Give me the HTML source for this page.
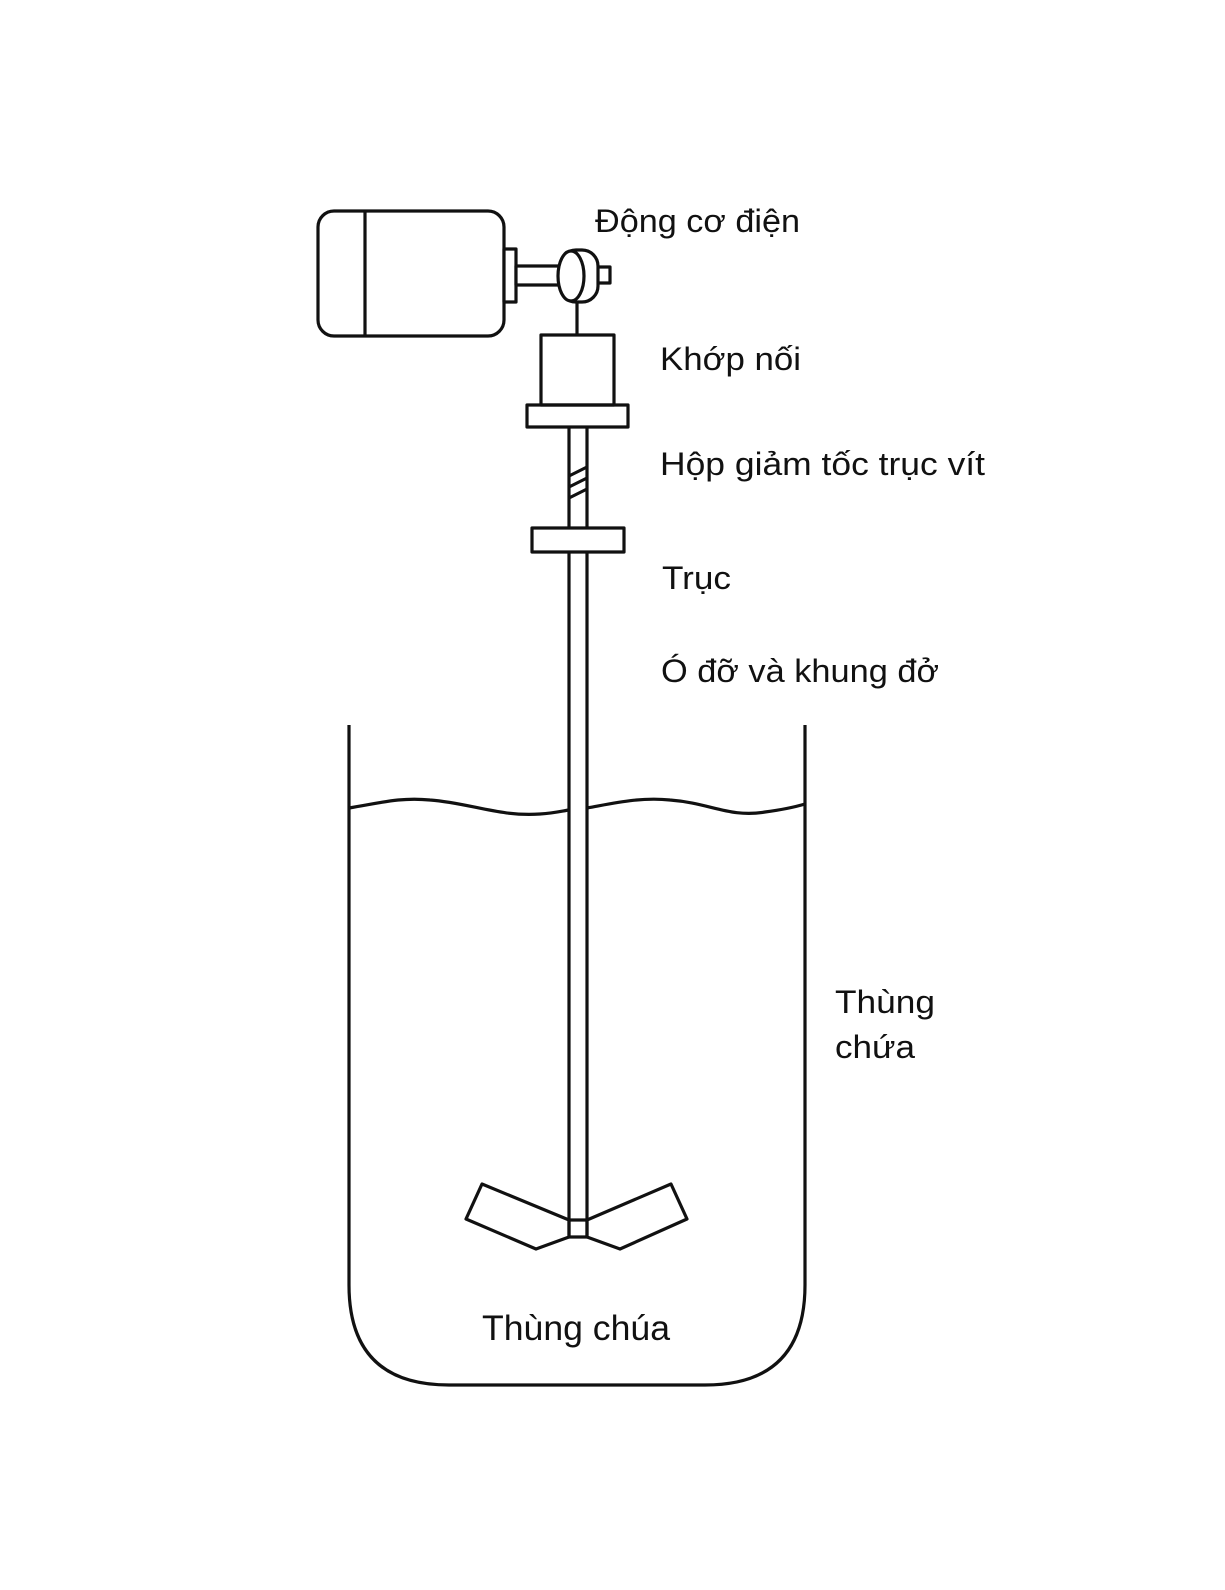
<!DOCTYPE html>
<html><head><meta charset="utf-8"><style>html,body{margin:0;padding:0;background:#fff}</style></head>
<body>
<svg width="1225" height="1585" viewBox="0 0 1225 1585" xmlns="http://www.w3.org/2000/svg">
<g fill="none" stroke="#111" stroke-width="3.2" stroke-linejoin="round">
<rect x="318" y="211" width="186" height="125" rx="16"/>
<line x1="365" y1="211" x2="365" y2="336"/>
<rect x="504" y="249" width="12" height="53" fill="#fff"/>
<rect x="516" y="266" width="52" height="19" fill="#fff"/>
<rect x="596" y="267" width="14" height="16" fill="#fff"/>
<rect x="560" y="250" width="38" height="52" rx="16" fill="#fff"/>
<ellipse cx="571" cy="276" rx="13" ry="25" fill="#fff"/>
<line x1="577" y1="302" x2="577" y2="335"/>
<rect x="541" y="335" width="73" height="70"/>
<rect x="527" y="405" width="101" height="22"/>
<line x1="569" y1="427" x2="569" y2="528"/>
<line x1="587" y1="427" x2="587" y2="528"/>
<path d="M569 476 L587 467 M569 487 L587 478 M569 498 L587 489"/>
<rect x="532" y="528" width="92" height="24"/>
<line x1="569" y1="552" x2="569" y2="1220"/>
<line x1="587" y1="552" x2="587" y2="1220"/>
<rect x="569" y="1220" width="18" height="17"/>
<polygon points="569,1220 482,1184 466,1219 536,1249 569,1237"/>
<polygon points="587,1220 671,1184 687,1219 620,1249 587,1237"/>
<path d="M349 725 L349 1285 Q349 1385 449 1385 L705 1385 Q805 1385 805 1285 L805 725"/>
<path d="M349 808 C380 803 400 797 430 800 C470 803 500 817 540 814 C555 813 562 811 569 810"/>
<path d="M587 808 C615 803 640 797 670 800 C710 803 730 818 765 812 C780 810 795 807 805 804"/>
</g>
<g font-family="Liberation Sans, sans-serif" fill="#111" font-size="32">
<text x="595" y="232" textLength="205" lengthAdjust="spacingAndGlyphs">Động cơ điện</text>
<text x="660" y="370" textLength="141" lengthAdjust="spacingAndGlyphs">Khớp nối</text>
<text x="660" y="475" textLength="325" lengthAdjust="spacingAndGlyphs">Hộp giảm tốc trục vít</text>
<text x="662" y="589" textLength="69" lengthAdjust="spacingAndGlyphs">Trục</text>
<text x="661" y="682" textLength="278" lengthAdjust="spacingAndGlyphs">Ó đỡ và khung đở</text>
<text x="835" y="1013" textLength="100" lengthAdjust="spacingAndGlyphs">Thùng</text>
<text x="835" y="1058" textLength="80" lengthAdjust="spacingAndGlyphs">chứa</text>
<text x="482" y="1340" font-size="35" textLength="188" lengthAdjust="spacingAndGlyphs">Thùng chúa</text>
</g>
</svg>
</body></html>
